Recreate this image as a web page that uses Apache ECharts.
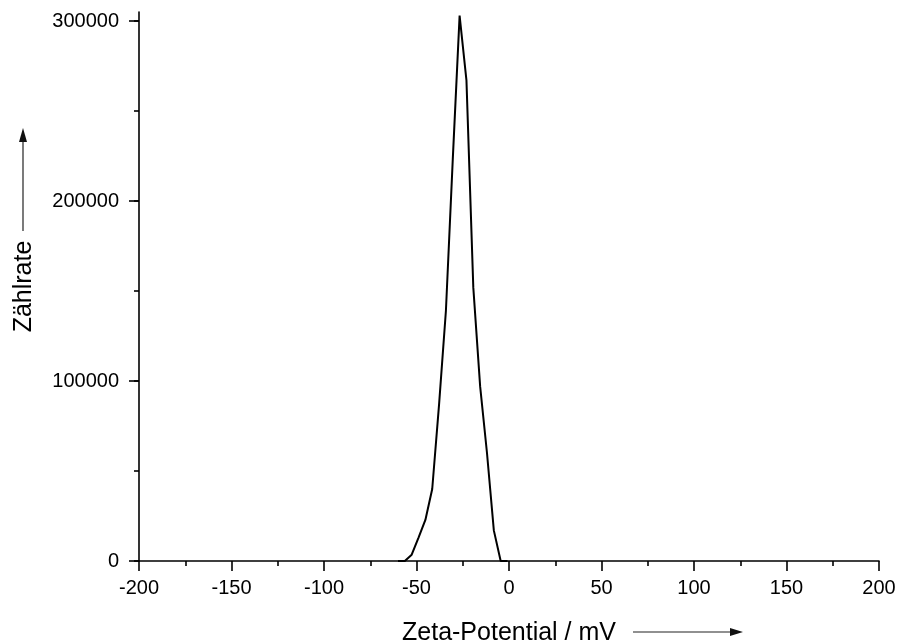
<!DOCTYPE html>
<html>
<head>
<meta charset="utf-8">
<script src="https://cdn.jsdelivr.net/npm/echarts@6/dist/echarts.min.js"></script>
<style>
  html, body { margin: 0; padding: 0; background: #ffffff; }
  #chart { width: 901px; height: 644px; }
</style>
</head>
<body>
<div id="chart"></div>
<script>
// Zeta potential distribution (mV) and measured count rate
const zetaPotential = [-60.0, -56.3, -52.6, -48.9, -45.2, -41.5, -37.8, -34.1, -30.4, -26.7, -23.0, -19.3, -15.6, -11.9, -8.2, -4.5, -0.8];
const countRate     = [0, 0, 3500, 13000, 22800, 40000, 87000, 139000, 223000, 303000, 267000, 152000, 97000, 60000, 17000, 0, 0];

const xTicks = [-200, -150, -100, -50, 0, 50, 100, 150, 200];
const yMajorTicks = [0, 100000, 200000, 300000];
const yMinorTicks = [0, 50000, 100000, 150000, 200000, 250000, 300000];

const xTitle = 'Zeta-Potential / mV';
const yTitle = 'Zählrate';

const FONT = '"Liberation Sans", Arial, sans-serif';
const INK = '#000000';

const chart = echarts.init(document.getElementById('chart'), null, { renderer: 'canvas' });

const yBase = {
  type: 'value',
  min: 0,
  max: 305000,
  position: 'left',
  splitLine: { show: false },
  minorTick: { show: false },
  minorSplitLine: { show: false }
};

chart.setOption({
  backgroundColor: '#ffffff',
  animation: false,
  grid: { left: 139, right: 22, top: 12, bottom: 83, containLabel: false, outerBoundsMode: 'none' },
  xAxis: {
    type: 'value',
    min: xTicks[0],
    max: xTicks[xTicks.length - 1],
    interval: 50,
    name: xTitle,
    nameLocation: 'middle',
    nameGap: 60,
    nameTextStyle: { fontFamily: FONT, fontSize: 25, color: INK },
    axisLine: { show: true, onZero: false, lineStyle: { color: INK, width: 1.6 } },
    axisTick: { show: true, inside: false, length: 10, lineStyle: { color: INK, width: 1.6 } },
    minorTick: { show: true, splitNumber: 2, length: 5, lineStyle: { color: INK, width: 1.6 } },
    axisLabel: { fontFamily: FONT, fontSize: 20, color: INK, margin: 17, formatter: v => String(v) },
    splitLine: { show: false },
    minorSplitLine: { show: false }
  },
  yAxis: [
    Object.assign({}, yBase, {
      axisLine: { show: true, onZero: false, lineStyle: { color: INK, width: 1.6 } },
      axisTick: { show: true, customValues: yMinorTicks, length: 5, lineStyle: { color: INK, width: 1.6 } },
      axisLabel: { show: false }
    }),
    Object.assign({}, yBase, {
      name: yTitle,
      nameLocation: 'middle',
      nameGap: 102,
      nameTextStyle: { fontFamily: FONT, fontSize: 25, color: INK },
      axisLine: { show: false, onZero: false },
      axisTick: { show: true, customValues: yMajorTicks, length: 10, lineStyle: { color: INK, width: 1.6 } },
      axisLabel: { show: true, customValues: yMajorTicks, fontFamily: FONT, fontSize: 20, color: INK, margin: 20, formatter: v => String(v) }
    })
  ],
  series: [{
    type: 'line',
    yAxisIndex: 0,
    data: zetaPotential.map((z, i) => [z, countRate[i]]),
    showSymbol: false,
    smooth: false,
    lineStyle: { color: INK, width: 2 },
    z: 1
  }],
  graphic: [
    // arrow beside the x-axis title
    { type: 'line', shape: { x1: 633, y1: 632, x2: 732, y2: 632 }, style: { stroke: '#222', lineWidth: 1.2 } },
    { type: 'polygon', shape: { points: [[743, 632], [730, 628], [730, 636]] }, style: { fill: '#111' } },
    // arrow above the y-axis title
    { type: 'line', shape: { x1: 23, y1: 231, x2: 23, y2: 142 }, style: { stroke: '#222', lineWidth: 1.2 } },
    { type: 'polygon', shape: { points: [[23, 128], [19, 142], [27, 142]] }, style: { fill: '#111' } }
  ]
});
</script>
</body>
</html>
